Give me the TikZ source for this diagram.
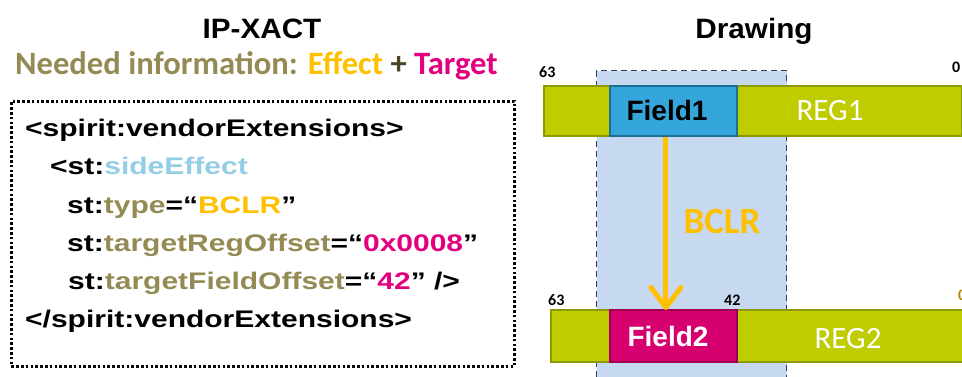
\documentclass[tikz,border=0pt]{standalone}
\usepackage{fontspec}
\setmainfont{Liberation Sans}
\newfontfamily\calfont{Carlito}
\usetikzlibrary{arrows.meta}
\definecolor{cOlive}{HTML}{948A54}
\definecolor{cOrange}{HTML}{FFC000}
\definecolor{cMag}{HTML}{E2007F}
\definecolor{cSky}{HTML}{93CDE6}
\definecolor{cPlus}{HTML}{4A4528}
\definecolor{cReg}{HTML}{BFCC00}
\definecolor{cRegB}{HTML}{8C9A00}
\definecolor{cF1}{HTML}{35A6DB}
\definecolor{cF1B}{HTML}{1F6E94}
\definecolor{cF2}{HTML}{D6006F}
\definecolor{cF2B}{HTML}{9E0052}
\definecolor{cHi}{HTML}{C6D9F0}
\definecolor{cHiB}{HTML}{2E4058}
\tikzset{
  txt/.style={inner sep=0pt, anchor=base west},
  codeline/.style={txt, font=\bfseries\fontsize{24}{24}\selectfont},
  regbar/.style={draw=cRegB, fill=cReg, line width=1.8pt, inner sep=0pt, anchor=north west},
  fieldbox/.style={line width=1.8pt, inner sep=0pt, anchor=north west, minimum width=127pt},
  fieldtxt/.style={inner sep=0pt, anchor=base, font=\bfseries\fontsize{28}{28}\selectfont},
  regtxt/.style={inner sep=0pt, anchor=base, text=white, font=\calfont\fontsize{31}{31}\selectfont},
  bitnum/.style={inner sep=0pt, anchor=base west, font=\calfont\bfseries\fontsize{16}{16}\selectfont},
}
\newcommand{\cs}[1]{\scalebox{1.25}[1]{#1}}
\begin{document}
\begin{tikzpicture}[x=1pt,y=-1pt]
\useasboundingbox (0,0) rectangle (962,376);
% titles
\node[inner sep=0pt, anchor=base, font=\bfseries\fontsize{28}{28}\selectfont] (t1) at (262,38) {\scalebox{1.06}[1]{IP-XACT}};
\node[inner sep=0pt, anchor=base, font=\bfseries\fontsize{28}{28}\selectfont] (t2) at (754,38) {\scalebox{1.06}[1]{Drawing}};
\node[txt, font=\calfont\bfseries\fontsize{32.6}{32.6}\selectfont] (need) at (15,74)
  {\textcolor{cOlive}{Needed information:} \textcolor{cOrange}{Effect} \textcolor{cPlus}{+} \textcolor{cMag}{Target}};
% code box
\node[draw=black, line width=2.6pt, dash pattern=on 2.6pt off 2.2pt, inner sep=0pt, minimum width=503pt, minimum height=265pt, anchor=north west] (codebox) at (10,100) {};
\node[codeline] (l1) at (25,136) {\cs{<spirit:vendorExtensions>}};
\node[codeline] (l2) at (50,174) {\cs{<st:\textcolor{cSky}{sideEffect}}};
\node[codeline] (l3) at (67,213) {\cs{st:\textcolor{cOlive}{type}=“\textcolor{cOrange}{BCLR}”}};
\node[codeline] (l4) at (67,251) {\cs{st:\textcolor{cOlive}{targetRegOffset}=“\textcolor{cMag}{0x0008}”}};
\node[codeline] (l5) at (68,289) {\cs{st:\textcolor{cOlive}{targetFieldOffset}=“\textcolor{cMag}{42}” />}};
\node[codeline] (l6) at (25,327) {\cs{</spirit:vendorExtensions>}};
% highlight column
\node[fill=cHi, draw=cHiB, line width=1.3pt, dash pattern=on 6pt off 4pt, inner sep=0pt, minimum width=190pt, minimum height=320pt, anchor=north west] (hi) at (596,70) {};
% register 1
\node[regbar, minimum width=418pt, minimum height=50pt] (reg1) at (543,85) {};
\node[fieldbox, draw=cF1B, fill=cF1, minimum height=50pt] (f1) at (609,85) {};
\node[fieldtxt, text=black] (f1t) at (667,120) {Field1};
\node[regtxt] (r1t) at (830,120) {REG1};
\node[bitnum] (n63a) at (539,77) {63};
\node[bitnum] (n0a) at (952,72) {0};
% register 2
\node[regbar, minimum width=430pt, minimum height=52pt] (reg2) at (550,309) {};
\node[fieldbox, draw=cF2B, fill=cF2, minimum height=52pt] (f2) at (609,309) {};
\node[fieldtxt, text=white] (f2t) at (668,346) {Field2};
\node[regtxt] (r2t) at (848,348) {REG2};
\node[bitnum] (n63b) at (548,305) {63};
\node[bitnum] (n42) at (724,305) {42};
\node[bitnum, text=cOrange!70!black] (n0b) at (958,300) {0};
% arrow
\draw[cOrange, line width=5pt, -{Straight Barb[length=20pt,width=30pt,line cap=round,line join=round]}]
  ([xshift=-7.5pt]f1.south) -- ([xshift=-7.5pt, yshift=-1pt]f2.north);
\node[inner sep=0pt, anchor=base, text=cOrange, font=\calfont\bfseries\fontsize{37}{37}\selectfont] (bclr) at (722,233) {BCLR};
\end{tikzpicture}
\end{document}
